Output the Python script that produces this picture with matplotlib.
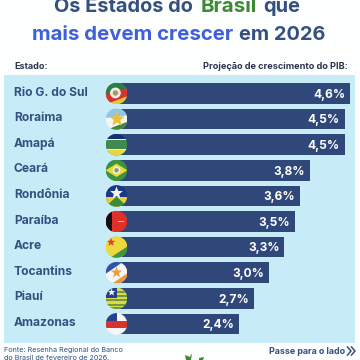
import numpy as np
import matplotlib
matplotlib.use('Agg')
import matplotlib.pyplot as plt
from matplotlib.patches import Circle, Polygon, Rectangle

plt.rcParams['font.family'] = ['Inter', 'DejaVu Sans']

states = ['Rio G. do Sul', 'Roraima', 'Amapá', 'Ceará', 'Rondônia',
          'Paraíba', 'Acre', 'Tocantins', 'Piauí', 'Amazonas']
growth = [4.6, 4.5, 4.5, 3.8, 3.6, 3.5, 3.3, 3.0, 2.7, 2.4]

NAVY = '#2f4879'
TEXT = '#33507f'
GREEN = '#3c8a35'
BLUE = '#3f5fdc'
PANEL = '#c8ecf7'


def rect(x0, y0, x1, y1, c):
    return Polygon([(x0, y0), (x1, y0), (x1, y1), (x0, y1)], fc=c, ec='none')


def star(cx, cy, r, c):
    pts = []
    for i in range(10):
        a = np.pi/2 + i*np.pi/5
        rr = r if i % 2 == 0 else r*0.42
        pts.append((cx + rr*np.cos(a), cy - rr*np.sin(a)))
    return Polygon(pts, fc=c, ec='none')


def flag_rs():
    return [rect(-1, -1, 1, 1, '#e8c83a'),
            Polygon([(-1, -0.2), (1, -1), (1, 0.25), (-1, 1)], fc='#d8322c', ec='none'),
            Polygon([(-1, -1), (1, -1), (1, -0.5), (-1, 0.1)], fc='#2f7a4a', ec='none'),
            Circle((-0.1, -0.05), 0.5, fc='#f2efe0', ec='none'),
            Circle((-0.1, -0.05), 0.25, fc='#a09a70', ec='none')]


def flag_rr():
    return [rect(-1, -1, 1, 1, '#f5f5f5'),
            Polygon([(-1, -1), (1, -1), (1, -0.35), (-1, -0.1)], fc='#8ec6ea', ec='none'),
            Polygon([(-0.9, 1), (1, 1), (1, 0.25), (-0.2, 0.7)], fc='#3c8a35', ec='none'),
            star(0.05, 0.0, 0.75, '#e9c23c')]


def flag_ap():
    return [rect(-1, -1, 1, 1, '#3f8a4d'),
            rect(-1, -1, 1, -0.5, '#16306f'),
            rect(-1, -0.5, 1, -0.42, '#f0f0f0'),
            rect(-1, 0.42, 1, 0.5, '#f0f0f0'),
            rect(-1, 0.5, 1, 1, '#e8d83c')]


def flag_ce():
    return [rect(-1, -1, 1, 1, '#3c9440'),
            Polygon([(-1, 0), (0, -0.62), (1, 0), (0, 0.62)], fc='#eed83a', ec='none'),
            Circle((0, 0), 0.36, fc='#e8f0e8', ec='none'),
            Circle((0, 0), 0.2, fc='#7a9a78', ec='none')]


def flag_ro():
    return [rect(-1, -1, 1, 1, '#1b3a85'),
            rect(-1, 0.1, 1, 1, '#e8d03a'),
            Polygon([(-1, 1), (0, 0.05), (1, 1)], fc='#3c8a35', ec='none'),
            star(0, -0.25, 0.62, '#f5f5f5')]


def flag_pb():
    return [rect(-1, -1, 1, 1, '#e0302a'),
            rect(-1, -1, -0.38, 1, '#111111'),
            rect(0.1, -0.06, 0.65, 0.06, '#f2c0b0')]


def flag_ac():
    return [rect(-1, -1, 1, 1, '#ecd83f'),
            Polygon([(-0.6, 1), (1, -0.05), (1, 1)], fc='#3f9440', ec='none'),
            star(-0.5, -0.45, 0.42, '#d8492c')]


def flag_to():
    return [rect(-1, -1, 1, 1, '#f7f7f7'),
            Polygon([(-1, -1), (0.6, -1), (-1, 0.1)], fc='#2f55a8', ec='none'),
            Polygon([(1, 1), (-0.4, 1), (1, 0.05)], fc='#e89a3a', ec='none'),
            star(0, -0.02, 0.55, '#eea03c')]


def flag_pi():
    parts = [rect(-1, -1, 1, 1, '#dcd94a')]
    for y0 in [-0.7, -0.3, 0.1, 0.5, 0.85]:
        parts.append(rect(-1, y0, 1, y0 + 0.18, '#6f9a42'))
    parts.append(rect(-1, -1, 0.05, -0.05, '#21408f'))
    parts.append(star(-0.45, -0.55, 0.36, '#f5f5f5'))
    return parts


def flag_am():
    return [rect(-1, -1, 1, 1, '#f7f7f7'),
            rect(-1, -0.28, 1, 0.42, '#d5332f'),
            rect(-1, -1, 0, -0.28, '#27408f')]


flags = [flag_rs, flag_rr, flag_ap, flag_ce, flag_ro,
         flag_pb, flag_ac, flag_to, flag_pi, flag_am]

fig = plt.figure(figsize=(3.6, 3.6), dpi=100, facecolor='#fdfefe')

# pixel axes for the panel
bg = fig.add_axes([0, 0, 1, 1])
bg.set_xlim(0, 360)
bg.set_ylim(360, 0)
bg.axis('off')
bg.add_patch(Rectangle((4, 75), 351, 268, fc=PANEL, ec='none'))

# bar axes: value 0 at x=118px, 50.45 px per unit, rows 25.6 px apart
ax = fig.add_axes([0, 0, 1, 1], facecolor='none')
ax.set_xlim(-118/50.45, (360-118)/50.45)
ax.set_ylim((360-93.5)/25.6, -93.5/25.6)
ax.axis('off')
ax.barh(range(len(states)), growth, height=0.81, color=NAVY, zorder=2)
for i, v in enumerate(growth):
    ax.text(v - 0.1, i + 0.05, f'{v:.1f}%'.replace('.', ','), color='white',
            fontsize=8.6, fontweight='bold', ha='right', va='center', zorder=3)

# flags and all other text on top
ov = fig.add_axes([0, 0, 1, 1], facecolor='none')
ov.set_xlim(0, 360)
ov.set_ylim(360, 0)
ov.axis('off')
R = 10.8
for i, fl in enumerate(flags):
    cy = 93.5 + 25.6*i
    tr = matplotlib.transforms.Affine2D().scale(R).translate(116.5, cy) + ov.transData
    clip = Circle((116.5, cy), R, transform=ov.transData, fc='none', ec='none')
    ov.add_patch(clip)
    for p in fl():
        p.set_transform(tr)
        ov.add_patch(p)
        p.set_clip_path(clip)
    ov.text(14, cy - 1, states[i], color=TEXT, fontsize=8.7, fontweight='bold',
            ha='left', va='center')

# title, built from coloured runs
TS = 14.4
ov.text(54, 7, 'Os Estados do', color=TEXT, fontsize=TS, fontweight='bold', ha='left', va='center')
ov.text(201, 7, 'Brasil', color=GREEN, fontsize=TS + 0.4, fontweight='bold', ha='left', va='center')
ov.text(263, 7, 'que', color=TEXT, fontsize=TS, fontweight='bold', ha='left', va='center')
ov.text(32, 35, 'mais devem crescer', color=BLUE, fontsize=TS + 0.3, fontweight='bold', ha='left', va='center')
ov.text(239, 35, 'em 2026', color=TEXT, fontsize=TS, fontweight='bold', ha='left', va='center')

ov.text(14, 66.5, 'Estado:', color='#2a3550', fontsize=6.5, fontweight='bold', ha='left', va='center')
ov.text(348, 66.5, 'Projeção de crescimento do PIB:', color='#2a3550', fontsize=6.6,
        fontweight='bold', ha='right', va='center')

ov.text(4, 350, 'Fonte: Resenha Regional do Banco', color=TEXT, fontsize=5.2, ha='left', va='center')
ov.text(4, 357.5, 'do Brasil de fevereiro de 2026.', color=TEXT, fontsize=5.2, ha='left', va='center')
ov.text(345.5, 351, 'Passe para o lado', color=TEXT, fontsize=6.4, fontweight='bold', ha='right', va='center')
ov.plot([347.5, 351, 347.5], [347, 351, 355], color=TEXT, lw=1.1)
ov.plot([351.5, 355, 351.5], [347, 351, 355], color=TEXT, lw=1.1)
ov.add_patch(Polygon([(185, 355), (190, 357), (192, 353), (191, 360), (186, 360)], fc=GREEN, ec='none'))
ov.add_patch(Polygon([(199, 358), (204, 357), (203, 360), (199, 360)], fc=GREEN, ec='none'))

fig.savefig('out.png', dpi=100, facecolor=fig.get_facecolor())
